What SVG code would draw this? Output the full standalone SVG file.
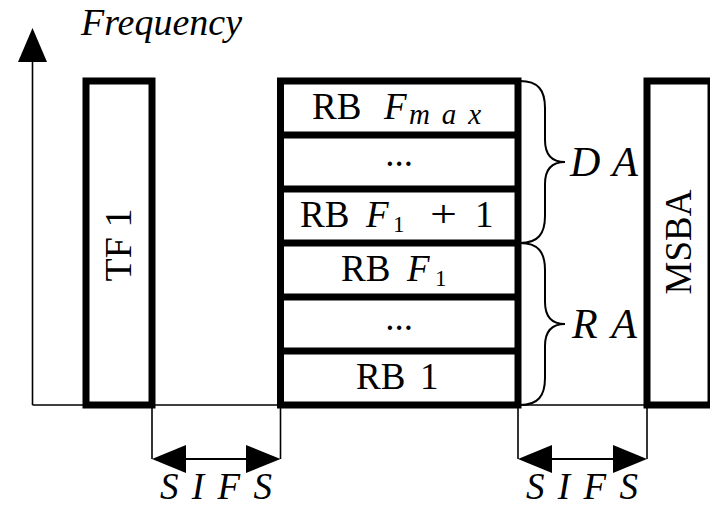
<svg xmlns="http://www.w3.org/2000/svg" width="710" height="507" viewBox="0 0 710 507">
  <style>
    .box { fill: #fff; stroke: #000; stroke-width: 7; }
    .sep { stroke: #000; stroke-width: 7; }
    .thin { stroke: #000; stroke-width: 1.6; fill: none; }
    .brace { stroke: #000; stroke-width: 2; fill: none; }
    .rm { font-family: "Liberation Serif", "Times New Roman", serif; fill: #000; }
    .it { font-family: "Liberation Serif", "Times New Roman", serif; font-style: italic; fill: #000; }
    .head { fill: #000; stroke: none; }
  </style>
  <rect x="0" y="0" width="710" height="507" fill="#fff"/>

  <g id="axis">
    <line class="thin" x1="32.5" y1="405" x2="32.5" y2="60"/>
    <polygon class="head" points="32.5,28 18,62 47,62"/>
    <line class="thin" x1="32.5" y1="405" x2="647" y2="405"/>
    <text class="it" x="81" y="35" font-size="37" textLength="161" lengthAdjust="spacingAndGlyphs">Frequency</text>
  </g>

  <g id="tf1">
    <rect class="box" x="86" y="81" width="66" height="324"/>
    <text class="rm" font-size="38" text-anchor="middle" transform="translate(131,245) rotate(-90)">TF 1</text>
  </g>

  <g id="rb-block">
    <rect class="box" x="280.5" y="81" width="237.5" height="324"/>
    <line class="sep" x1="280.5" y1="135" x2="518" y2="135"/>
    <line class="sep" x1="280.5" y1="189" x2="518" y2="189"/>
    <line class="sep" x1="280.5" y1="243" x2="518" y2="243"/>
    <line class="sep" x1="280.5" y1="297" x2="518" y2="297"/>
    <line class="sep" x1="280.5" y1="351" x2="518" y2="351"/>
  </g>

  <g id="rb-fmax">
    <text class="rm" x="312" y="119" font-size="37">RB</text>
    <text class="it" x="384" y="119" font-size="37">F</text>
    <text class="it" x="409" y="124" font-size="29" textLength="72" lengthAdjust="spacing">max</text>
  </g>
  <g id="rb-dots-top">
    <text class="rm" x="399" y="166" font-size="37" text-anchor="middle">...</text>
  </g>
  <g id="rb-f1plus1">
    <text class="rm" x="300" y="227" font-size="37">RB</text>
    <text class="it" x="366" y="227" font-size="37">F</text>
    <text class="rm" x="393" y="232" font-size="23">1</text>
    <text class="rm" x="430" y="227" font-size="37" textLength="27" lengthAdjust="spacingAndGlyphs">+</text>
    <text class="rm" x="475" y="227" font-size="37">1</text>
  </g>
  <g id="rb-f1">
    <text class="rm" x="341" y="281" font-size="37">RB</text>
    <text class="it" x="407" y="281" font-size="37">F</text>
    <text class="rm" x="435" y="286" font-size="23">1</text>
  </g>
  <g id="rb-dots-bottom">
    <text class="rm" x="399" y="330" font-size="37" text-anchor="middle">...</text>
  </g>
  <g id="rb-1">
    <text class="rm" x="356" y="389" font-size="37">RB</text>
    <text class="rm" x="420" y="389" font-size="37">1</text>
  </g>

  <g id="da">
    <path class="brace" d="M520,81 C538,81 545,90 545,108 L545,140 C545,154 551,162 565,162 C551,162 545,170 545,184 L545,216 C545,234 538,243 520,243"/>
    <text class="it" x="570" y="176" font-size="42" textLength="68" lengthAdjust="spacing">DA</text>
  </g>
  <g id="ra">
    <path class="brace" d="M520,243 C538,243 545,252 545,270 L545,302 C545,316 551,324 565,324 C551,324 545,332 545,346 L545,378 C545,396 538,405 520,405"/>
    <text class="it" x="572" y="338" font-size="42" textLength="65" lengthAdjust="spacing">RA</text>
  </g>

  <g id="msba">
    <rect class="box" x="647" y="81" width="64" height="324"/>
    <text class="rm" font-size="37" text-anchor="middle" transform="translate(691,242) rotate(-90)">MSBA</text>
  </g>

  <g id="connectors">
    <line class="thin" x1="152" y1="405" x2="152" y2="459"/>
    <line class="thin" x1="280.5" y1="405" x2="280.5" y2="459"/>
    <line class="thin" x1="185" y1="459" x2="247" y2="459" style="stroke-width:2"/>
    <polygon class="head" points="152,459 186,445 186,473"/>
    <polygon class="head" points="280.5,459 246,445 246,473"/>
    <text class="it" x="160" y="499" font-size="37" textLength="112" lengthAdjust="spacing">SIFS</text>

    <line class="thin" x1="518" y1="405" x2="518" y2="459"/>
    <line class="thin" x1="647" y1="405" x2="647" y2="459"/>
    <line class="thin" x1="551" y1="459" x2="614" y2="459" style="stroke-width:2"/>
    <polygon class="head" points="518,459 552,445 552,473"/>
    <polygon class="head" points="647,459 613,445 613,473"/>
    <text class="it" x="526" y="499" font-size="37" textLength="112" lengthAdjust="spacing">SIFS</text>
  </g>
</svg>
